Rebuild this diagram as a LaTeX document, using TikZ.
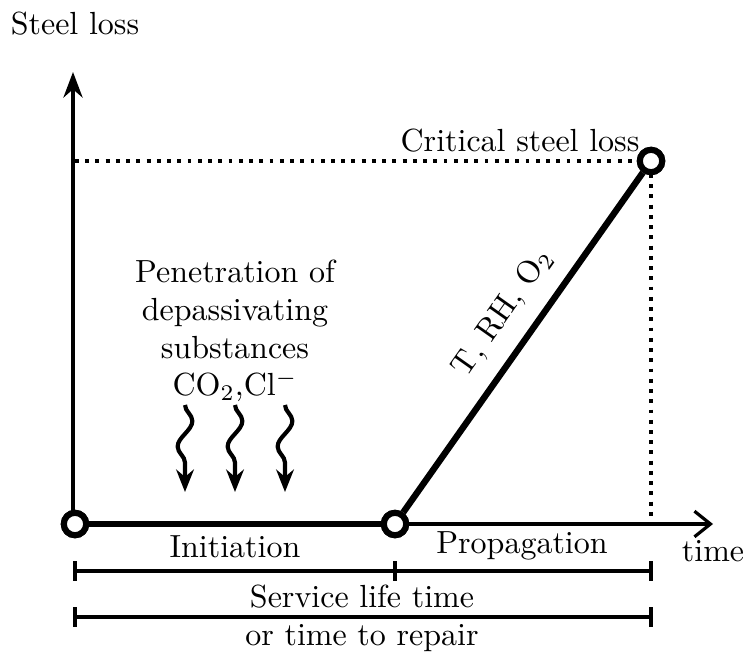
\documentclass[tikz,border=0pt]{standalone}
\usetikzlibrary{arrows.meta,decorations.pathmorphing}
\begin{document}
\begin{tikzpicture}[x=0.3125pt,y=-0.3125pt,
  axis/.style={line width=1pt},
  heavy/.style={line width=2pt},
  pt/.style={circle,draw,line width=1.9pt,fill=white,minimum size=7pt,inner sep=0pt},
  dim/.style={line width=1pt},
  dots/.style={line width=1pt,dash pattern=on 1.2pt off 2pt},
  lbl/.style={font=\fontsize{10}{11.8}\selectfont,inner sep=0pt},
  wave/.style={line width=1.3pt,-{Stealth[length=7pt,width=5.5pt]},decorate,
    decoration={snake,amplitude=2.3pt,segment length=16pt,post length=6pt}}]
\useasboundingbox (0,0) rectangle (745,654);
% coordinates
\coordinate (ytop) at (73,72);
\coordinate (ybot) at (73,528);
\coordinate (xend) at (713,524);
\coordinate (crh) at (75,161);
\coordinate (crv) at (651,524);
% dotted guides
\draw[dots] (crh) -- (638,161);
\draw[dots] (651,174) -- (crv);
% axes
\draw[axis,-{Stealth[length=8pt,width=6pt]}] (ybot) -- (ytop);
\draw[axis,-{Straight Barb[length=5pt,width=8pt]}] (73,524) -- (xend);
% points
\node[pt] (o) at (75,524) {};
\node[pt] (m) at (395,524) {};
\node[pt] (c) at (651,161) {};
\draw[heavy] (o) -- (m);
\draw[heavy] (m) -- (c);
\node[pt] at (o) {};
\node[pt] at (m) {};
\node[pt] at (c) {};
% labels
\node[lbl] (sl) at (75,24) {Steel loss};
\node[lbl] (csl) at (520,141) {Critical steel loss};
\node[lbl,align=center] (pen) at (235,331) {Penetration of\\depassivating\\substances\\CO$_2$,Cl$^-$};
\node[lbl,rotate=54.8] (trh) at (503,313) {T, RH, O$_2$};
\node[lbl] (ini) at (235,547) {Initiation};
\node[lbl] (pro) at (522,546) {Propagation};
\node[lbl] (tim) at (713,551) {time};
\node[lbl] (slt) at (362,597) {Service life time};
\node[lbl] (ttr) at (362,638) {or time to repair};
% wavy arrows
\foreach \x/\n in {185/a,235/b,285/c}{
  \coordinate (w\n s) at (\x,405);
  \coordinate (w\n e) at (\x,492);
  \draw[wave] (w\n s) -- (w\n e);
}
% dimension lines
\coordinate (d1a) at (75,571);
\coordinate (d1b) at (395,571);
\coordinate (d1c) at (651,571);
\draw[dim] (d1a) -- (d1c);
\foreach \p in {d1a,d1b,d1c}{\draw[dim] ([yshift=-3pt]\p) -- ([yshift=3pt]\p);}
\coordinate (d2a) at (75,617);
\coordinate (d2c) at (651,617);
\draw[dim] (d2a) -- (d2c);
\foreach \p in {d2a,d2c}{\draw[dim] ([yshift=-3pt]\p) -- ([yshift=3pt]\p);}
\end{tikzpicture}
\end{document}
